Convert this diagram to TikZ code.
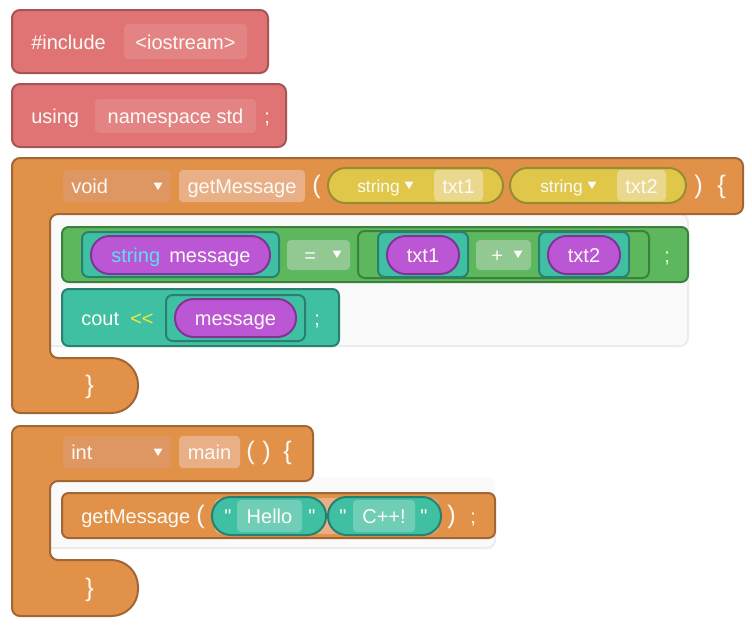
\documentclass[tikz,border=0pt]{standalone}
\usepackage{fontspec}
\newfontfamily\bk{Liberation Sans}
\definecolor{redF}{RGB}{224,116,116}
\definecolor{redD}{RGB}{166,84,84}
\definecolor{redL}{RGB}{228,131,131}
\definecolor{orF}{RGB}{226,146,72}
\definecolor{orD}{RGB}{160,102,52}
\definecolor{orM}{RGB}{222,151,98}
\definecolor{orL}{RGB}{233,176,136}
\definecolor{yeF}{RGB}{224,199,74}
\definecolor{yeD}{RGB}{152,140,50}
\definecolor{yeL}{RGB}{234,216,142}
\definecolor{grF}{RGB}{93,183,93}
\definecolor{grD}{RGB}{60,128,62}
\definecolor{grL}{RGB}{146,200,146}
\definecolor{teF}{RGB}{64,192,162}
\definecolor{teD}{RGB}{42,128,110}
\definecolor{teL}{RGB}{112,206,182}
\definecolor{puF}{RGB}{187,86,212}
\definecolor{puD}{RGB}{128,52,150}
\definecolor{cyT}{RGB}{92,222,240}
\definecolor{ylT}{RGB}{236,236,60}
\definecolor{txW}{RGB}{252,250,246}
\definecolor{shF}{RGB}{250,250,250}
\definecolor{shD}{RGB}{236,236,236}
\tikzset{
  blkline/.style={line width=1.5pt},
  redblk/.style={blkline, fill=redF, draw=redD, rounded corners=6pt},
  orblk/.style={blkline, fill=orF, draw=orD, rounded corners=6pt},
  grblk/.style={blkline, fill=grF, draw=grD, rounded corners=5pt},
  teblk/.style={blkline, fill=teF, draw=teD, rounded corners=5pt},
  yepill/.style={blkline, fill=yeF, draw=yeD, rounded corners=13pt},
  pupill/.style={blkline, fill=puF, draw=puD, rounded corners=14pt},
  tepill/.style={blkline, fill=teF, draw=teD, rounded corners=14pt},
  shadowfill/.style={fill=shF},
  shadowline/.style={blkline, draw=shD, rounded corners=6pt},
  fld/.style={rounded corners=3pt},
  txt/.style={inner sep=0pt, text=txW, font=\bk\fontsize{15}{18}\selectfont},
  stxt/.style={inner sep=0pt, text=txW, font=\bk\fontsize{13}{16}\selectfont},
  bigtxt/.style={inner sep=0pt, text=txW, font=\bk\fontsize{19}{23}\selectfont},
}
\newcommand\ddarrow[2]{\fill[txW] ({#1-4.5},{#2-3.5}) -- ({#1+4.5},{#2-3.5}) -- (#1,{#2+4}) -- cycle;}
\begin{document}
\begin{tikzpicture}[x=0.75pt,y=-0.75pt]
\useasboundingbox (0,0) rectangle (752,626);
\fill[white] (0,0) rectangle (752,626);

% ---------- #include
\draw[redblk] (12,10) rectangle (268,73);
\fill[redL, fld] (124,24) rectangle (247,59);
\node[txt, anchor=base west] (inc) at (31,49) {\#include};
\node[txt, anchor=base] (ios) at (185.5,49) {<iostream>};

% ---------- using
\draw[redblk] (12,84) rectangle (286,147);
\fill[redL, fld] (95,99) rectangle (256,133);
\node[txt, anchor=base west] (using) at (31,123) {using};
\node[txt, anchor=base] (nsstd) at (175.5,123) {namespace std};
\node[txt, anchor=base west] (semi1) at (264,123) {;};

% ---------- function getMessage
\fill[shadowfill, rounded corners=6pt] (44,208) rectangle (688,346);
\draw[shadowline] (600,214) -- (688,214) -- (688,346) -- (44,346);
\draw[orblk] (12,158) -- (743,158) -- (743,214) -- (50,214) -- (50,358) [rounded corners=20pt] -- (138,358) -- (138,413) [rounded corners=6pt] -- (12,413) -- cycle;
\fill[orM, fld] (63,170) rectangle (171,202);
\fill[orL, fld] (179,170) rectangle (305,202);
\node[txt, anchor=base west] (void) at (71,193) {void};
\ddarrow{158}{186}
\node[txt, anchor=base] (gm) at (242,193) {getMessage};
\node[bigtxt, anchor=base west] (lp1) at (312,193) {(};
\draw[yepill] (328,168) rectangle (503,203);
\fill[yeL, fld] (434,170) rectangle (483,201);
\node[stxt, anchor=base west] (str1) at (357,192) {string};
\ddarrow{409}{185}
\node[txt, anchor=base] (t1) at (458.5,193) {txt1};
\draw[yepill] (510,168) rectangle (686,203);
\fill[yeL, fld] (617,170) rectangle (666,201);
\node[stxt, anchor=base west] (str2) at (540,192) {string};
\ddarrow{592}{185}
\node[txt, anchor=base] (t2) at (641.5,193) {txt2};
\node[bigtxt, anchor=base west] (rp1) at (694,193) {)};
\node[bigtxt, anchor=base west] (lb1) at (717,193) {\{};

% assignment
\draw[grblk] (62,227) rectangle (688,282);
\draw[teblk] (82,232) rectangle (279,277);
\draw[pupill] (91,236) rectangle (270,274);
\node[txt, anchor=base west, text=cyT] (strm) at (111,262) {string};
\node[txt, anchor=base west] (msg1) at (169,262) {message};
\fill[grL, fld] (287,240) rectangle (350,270);
\node[txt, anchor=base west] (eq) at (304,262) {=};
\ddarrow{337}{254}
\draw[grblk] (358,231) rectangle (649,278);
\draw[teblk] (378,232) rectangle (468,277);
\draw[pupill] (387,236) rectangle (459,274);
\node[txt, anchor=base] (v1) at (423,262) {txt1};
\fill[grL, fld] (476,240) rectangle (531,270);
\node[txt, anchor=base west] (plus) at (491,262) {+};
\ddarrow{518}{254}
\draw[teblk] (539,232) rectangle (629,277);
\draw[pupill] (548,236) rectangle (620,274);
\node[txt, anchor=base] (v2) at (584,262) {txt2};
\node[txt, anchor=base west] (semi2) at (664,262) {;};

% cout
\draw[teblk] (62,289) rectangle (339,346);
\node[txt, anchor=base west] (cout) at (81,325) {cout};
\node[txt, anchor=base west, text=ylT] (shl) at (130,325) {<<};
\draw[teblk] (166,295) rectangle (305,341);
\draw[pupill] (175,299) rectangle (296,337);
\node[txt, anchor=base] (msg2) at (235.5,325) {message};
\node[txt, anchor=base west] (semi3) at (314,325) {;};

\node[bigtxt, anchor=base west] (rb1) at (85,393) {\}};

% ---------- main
\fill[shadowfill, rounded corners=6pt] (44,477) rectangle (495,548);
\draw[shadowline] (495,520) -- (495,548) -- (44,548);
\draw[orblk] (12,426) -- (313,426) -- (313,481) -- (50,481) -- (50,560) [rounded corners=20pt] -- (138,560) -- (138,616) [rounded corners=6pt] -- (12,616) -- cycle;
\fill[orM, fld] (63,436) rectangle (171,468);
\fill[orL, fld] (179,436) rectangle (240,468);
\node[txt, anchor=base west] (int) at (71,459) {int};
\ddarrow{158}{452}
\node[txt, anchor=base] (main) at (209.5,459) {main};
\node[bigtxt, anchor=base west] (lp2) at (246,459) {(};
\node[bigtxt, anchor=base west] (rp2) at (262,459) {)};
\node[bigtxt, anchor=base west] (lb2) at (283,459) {\{};

% call
\draw[orblk, rounded corners=5pt] (62,493) rectangle (495,538);
\node[txt, anchor=base west] (call) at (81,523) {getMessage};
\node[bigtxt, anchor=base west] (lp3) at (196,523) {(};
\fill[orL, rounded corners=6pt] (214,498) rectangle (439,534);
\draw[tepill] (212,497) rectangle (326,535);
\fill[teL, fld] (237,500) rectangle (302,532);
\node[txt, anchor=base west] (q1) at (224,523) {"};
\node[txt, anchor=base] (hello) at (269.5,523) {Hello};
\node[txt, anchor=base west] (q2) at (308,523) {"};
\draw[tepill] (328,497) rectangle (441,535);
\fill[teL, fld] (353,500) rectangle (415,532);
\node[txt, anchor=base west] (q3) at (339,523) {"};
\node[txt, anchor=base] (cpp) at (384,523) {C++!};
\node[txt, anchor=base west] (q4) at (420,523) {"};
\node[bigtxt, anchor=base west] (rp3) at (447,523) {)};
\node[txt, anchor=base west] (semi4) at (470,523) {;};

\node[bigtxt, anchor=base west] (rb2) at (85,596) {\}};
\end{tikzpicture}
\end{document}
